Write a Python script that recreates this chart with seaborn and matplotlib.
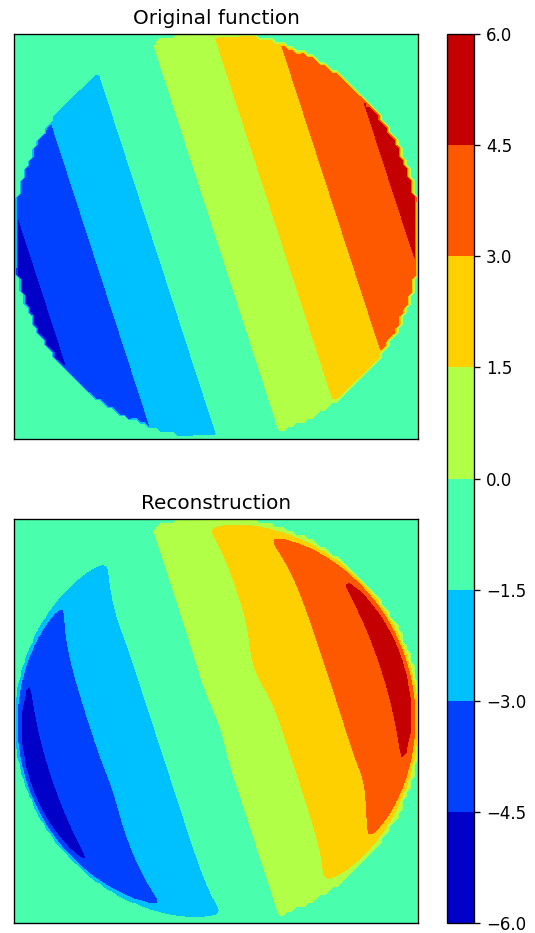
import numpy as np
import matplotlib
matplotlib.use("Agg")
import matplotlib.pyplot as plt
import seaborn as sns

# Filled-contour levels shared by both panels and the colour bar
levels = [-6.0, -4.5, -3.0, -1.5, 0.0, 1.5, 3.0, 4.5, 6.0]
titles = ["Original function", "Reconstruction"]

# Tilted linear ramp defined on the unit disk (zero outside)
ramp_amplitude = 5.0
ramp_angle_deg = 18.0
disk_radius = 1.0
grid_points = 100

# Reconstruction: overshoot that builds up towards the rim, then a soft edge
rim_gain = 0.238
rim_power = 10
rim_edge = 0.985
rim_width = 0.0256

# Local deviations of the reconstruction (centre x, centre y, height, width)
bump_x = [0.18, 0.02, 0.74, -0.40, -0.55]
bump_y = [0.27, -0.02, -0.30, 0.55, -0.35]
bump_height = [0.18, -0.06, -0.07, 0.06, -0.05]
bump_width = [0.12, 0.09, 0.08, 0.09, 0.10]

sns.set_theme(style="white")
plt.rcParams.update({
    "font.family": ["DejaVu Sans"],
    "font.size": 10,
    "axes.titlesize": 12,
    "ytick.labelsize": 10,
    "axes.edgecolor": "black",
    "axes.linewidth": 0.8,
    "text.color": "black",
    "ytick.color": "black",
    "ytick.major.size": 3.5,
    "ytick.major.width": 0.8,
})

# Sample grid
coords = np.linspace(-1.0, 1.0, grid_points)
X, Y = np.meshgrid(coords, coords)
R = np.hypot(X, Y)
inside = R <= disk_radius

theta = np.deg2rad(ramp_angle_deg)
ramp = ramp_amplitude * (X * np.cos(theta) + Y * np.sin(theta))
original = np.where(inside, ramp, 0.0)

gain = (1.0 + rim_gain * R ** rim_power) * 0.5 * (1.0 - np.tanh((R - rim_edge) / rim_width))
deviation = np.zeros_like(X)
for bx, by, bh, bw in zip(bump_x, bump_y, bump_height, bump_width):
    deviation += bh * np.exp(-((X - bx) ** 2 + (Y - by) ** 2) / (2.0 * bw ** 2))
reconstruction = np.where(inside, ramp * gain + deviation, 0.0)

W, H = 535, 933
fig = plt.figure(figsize=(W / 120, H / 120), dpi=120)
ax_top = fig.add_axes([13.5 / W, 1 - 439 / H, 405 / W, 405 / H])
ax_bot = fig.add_axes([13.5 / W, 1 - 923.3 / H, 405 / W, 404 / H])
cax = fig.add_axes([446.7 / W, 1 - 923.3 / H, 27.6 / W, 889.3 / H])

cs = None
for ax, field, title in zip([ax_top, ax_bot], [original, reconstruction], titles):
    cs = ax.contourf(X, Y, field, levels=levels, cmap="jet")
    ax.set_title(title)
    ax.set_xticks([])
    ax.set_yticks([])
    ax.set_xlim(-1, 1)
    ax.set_ylim(-1, 1)
    for sp in ax.spines.values():
        sp.set_visible(True)
        sp.set_color("black")

cb = fig.colorbar(cs, cax=cax, ticks=levels)
cb.ax.yaxis.set_ticks_position("right")
cb.ax.tick_params(length=3.5, width=0.8, color="black", labelsize=10)
cb.outline.set_edgecolor("black")
cb.outline.set_linewidth(0.8)

fig.savefig("out.png", dpi=120)
